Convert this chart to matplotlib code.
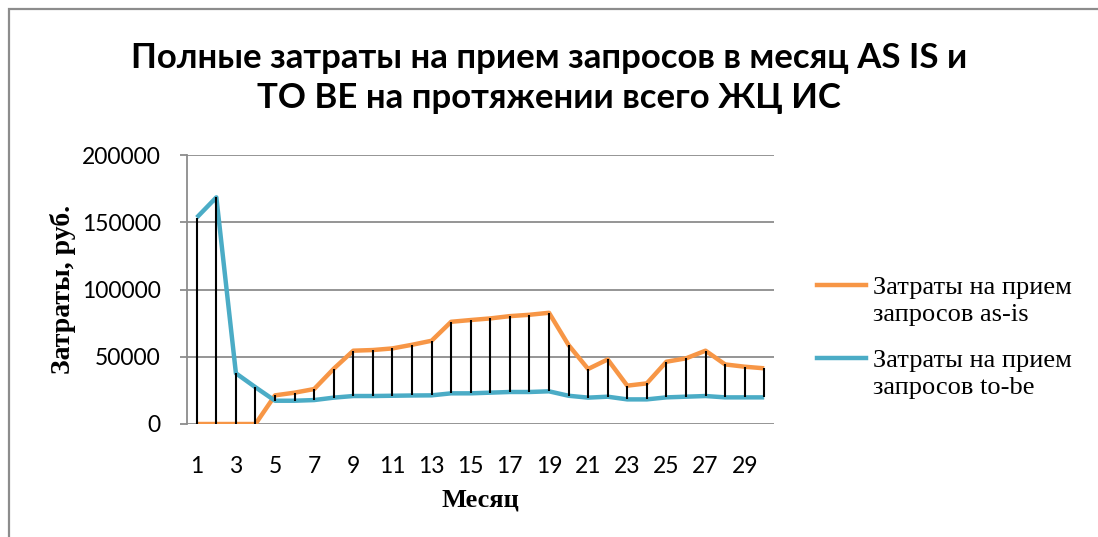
import matplotlib
matplotlib.use("Agg")
import matplotlib.pyplot as plt
from matplotlib.lines import Line2D
from matplotlib.patches import Rectangle

months = list(range(1, 31))
as_is = [0, 0, 0, 0, 21300, 23300, 26000, 41100, 54500, 55000,
         56200, 58900, 61900, 76000, 77300, 78500, 80200, 81200, 82700, 58700,
         40900, 48000, 28500, 30200, 46300, 48800, 54500, 44300, 42600, 41400]
to_be = [153500, 168500, 37700, 27300, 17300, 17300, 17800, 19600, 20800, 20800,
         21000, 21200, 21300, 22800, 22800, 23300, 23800, 23800, 24300, 21000,
         19600, 20300, 18300, 18300, 19800, 20300, 20800, 19800, 19800, 19800]
legend_labels = ["Затраты на прием\nзапросов as-is", "Затраты на прием\nзапросов to-be"]
colors = ["#F79646", "#4BACC6"]

W, H = 1098, 537
fig = plt.figure(figsize=(W / 100, H / 100), dpi=100)
ax = fig.add_axes([187 / W, 1 - 424 / H, (774 - 187) / W, (424 - 155) / H])

# chart frame
fig.add_artist(Rectangle((9 / W, -0.1), 1.2, 1 - 9 / H + 0.1, transform=fig.transFigure,
                         fill=False, edgecolor="#8c8c8c", lw=1.6))

ax.plot(months, as_is, color=colors[0], lw=3.2, solid_capstyle="butt", zorder=3)
ax.plot(months, to_be, color=colors[1], lw=3.2, solid_capstyle="butt", zorder=3)
lo = [min(a, b) for a, b in zip(as_is, to_be)]
hi = [max(a, b) for a, b in zip(as_is, to_be)]
ax.vlines(months, lo, hi, color="black", lw=1.5, zorder=4)

ax.set_xlim(0.5, 30.5)
ax.set_ylim(0, 200000)
ax.set_yticks(range(0, 200001, 50000))
ax.set_xticks(months[::2])
ax.grid(axis="y", color="#8c8c8c", lw=1.3)
ax.set_axisbelow(True)
for s in ["top", "right", "bottom"]:
    ax.spines[s].set_visible(False)
ax.spines["left"].set_color("#8c8c8c")
ax.spines["left"].set_linewidth(1.3)
ax.tick_params(axis="y", length=5, color="#8c8c8c", width=1.3, pad=14)
ax.tick_params(axis="x", length=0, pad=23)
for lab in ax.get_xticklabels() + ax.get_yticklabels():
    lab.set_fontfamily("Lato")
    lab.set_fontsize(16.5)

ax.set_xlabel("Месяц", family="Liberation Serif", weight="bold", fontsize=19, labelpad=8)
ax.set_ylabel("Затраты, руб.", family="Liberation Serif", weight="bold", fontsize=20, labelpad=4)

fig.text(0.5, 1 - 78 / H, "Полные затраты на прием запросов в месяц AS IS и\nТО ВЕ на протяжении всего ЖЦ ИС",
         ha="center", va="center", family="Lato", weight="bold", fontsize=25, linespacing=1.3)

# legend
for i, (lab, c) in enumerate(zip(legend_labels, colors)):
    y_line = 1 - (285 + 73 * i) / H
    y_text = 1 - (301.5 + 73 * i) / H
    fig.add_artist(Line2D([817 / W, 866 / W], [y_line, y_line], transform=fig.transFigure, color=c, lw=3.2))
    fig.text(873 / W, y_text, lab, ha="left", va="center", family="Liberation Serif", fontsize=19,
             linespacing=1.3)

fig.savefig("out.png", dpi=100)
